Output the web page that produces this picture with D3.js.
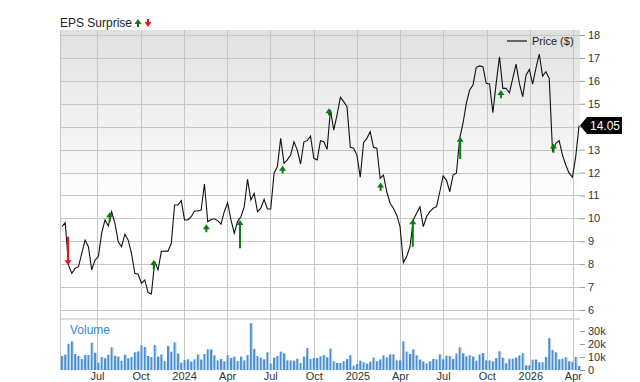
<!DOCTYPE html>
<html>
<head>
<meta charset="utf-8">
<script src="https://cdn.jsdelivr.net/npm/d3@7"></script>
<style>
  body { margin: 0; background: #fff; }
  svg { display: block; font-family: "Liberation Sans", Arial, sans-serif; }
</style>
</head>
<body>
<div id="chart"></div>
<script>
// weekly closing prices ($), first week of the series starts on firstWeek
var firstWeek = new Date(2023, 3, 18);
var prices = [
  9.64, 9.81, 7.96, 7.6, 7.82, 7.89, 8.47, 9.05, 8.76, 7.75,
  8.18, 8.33, 9.35, 9.93, 9.67, 10.29, 9.78, 8.98, 8.76, 9.31,
  9.05, 8.47, 7.6, 7.56, 7.17, 7.31, 6.76, 6.7, 8.11, 7.75,
  8.55, 8.57, 8.57, 8.91, 10.58, 10.58, 10.77, 9.93, 9.93, 10.07,
  10.32, 10.32, 10.36, 11.5, 9.85, 9.95, 9.98, 9.9, 9.75, 10.3,
  10.68, 9.93, 9.35, 9.87, 10.07, 10.5, 11.7, 10.8, 11.09, 10.29,
  10.44, 10.83, 10.41, 10.41, 11.97, 12.26, 13.49, 12.4, 12.55, 12.76,
  13.34, 12.98, 12.37, 13.34, 13.39, 13.59, 12.62, 12.55, 13.39, 13.34,
  13.01, 14.73, 13.85, 14.51, 15.28, 15.09, 14.87, 13.1, 13.06, 12.76,
  11.79, 13.3, 13.49, 13.78, 13.1, 13.06, 11.75, 11.89, 11.16, 10.66,
  10.44, 10.15, 9.64, 8.07, 8.33, 8.76, 9.93, 10.22, 10.51, 9.64,
  10.07, 10.29, 10.44, 10.51, 11.16, 11.85, 11.67, 11.16, 11.89, 11.97,
  13.49, 14.15, 15.02, 15.6, 15.82, 16.59, 16.65, 16.62, 15.89, 15.86,
  14.61, 15.89, 17.05, 15.67, 15.67, 15.48, 16.11, 16.73, 15.89, 15.31,
  16.25, 16.5, 15.86, 16.55, 17.17, 16.21, 16.4, 16.11, 12.91, 13.27,
  13.39, 12.76, 12.33, 11.97, 11.79, 12.69, 14.05
];
// weekly volume, thousands of shares
var volumes = [
  10.8, 11.8, 20, 22, 12.3, 10.8, 8.5, 11.5, 11.5, 21,
  13.3, 5.6, 10, 9, 11.8, 17.4, 11, 10.3, 7, 11.8,
  9, 10, 13.6, 14.4, 19, 17.7, 10.8, 10, 19.2, 10.3,
  12, 6.7, 18.5, 14.1, 21.3, 12.6, 5.6, 7.7, 8.2,
  6.4, 8.2, 12, 8, 12.3, 15.9, 15.9, 11.3, 7.4, 8.5,
  6.7, 11.3, 9.2, 10.3, 7, 10.3, 7.4, 11.5, 36, 16.2,
  10.8, 9.5, 8.2, 13.6, 4.9, 9.5, 10.8, 14.1, 12.8, 7.4,
  7.4, 7.2, 8.7, 5.4, 10.3, 16.9, 8.5, 9.2, 9.2,
  10.5, 11.5, 9.7, 16.4, 6.7, 5.4, 5.4, 6.7, 8.5, 11.3,
  3.3, 4.6, 7.2, 5.9, 4.9, 6.4, 9.5, 6.7, 8.2, 11.3,
  9.7, 12, 12, 7.4, 7.4, 22, 14.1, 12.3, 15.9, 11.3,
  8, 6.7, 5.1, 6.7, 8.5, 8.2, 12, 8.2, 11,
  10.8, 8.5, 12.6, 17.4, 12.8, 10.5, 11.3, 10.3, 7.2, 12,
  13, 7.4, 7.4, 6.7, 9.2, 14.4, 9.5, 5.1, 8.7, 8.7,
  9.5, 11.3, 13, 3.6, 3.6, 8, 8, 5.9, 5.9, 10,
  24.4, 15.4, 13.6, 8.2, 8.7, 9.7, 6.7, 6.2, 10, 3.1
];
// earnings reports: arrow from price "from" to price "to"
var surpriseDates = ["2023-05-01", "2023-07-28", "2023-10-29", "2024-02-17", "2024-04-28", "2024-07-27",
                     "2024-11-02", "2025-02-19", "2025-04-28", "2025-08-06", "2025-10-31", "2026-02-19"];
var surpriseFrom = [9.2, 9.85, 7.78, 9.39, 8.69, 11.97, 14.5, 11.2, 8.76, 12.59, 15.24, 12.86];
var surpriseTo   = [7.95, 10.27, 8.18, 9.74, 9.93, 12.3, 14.8, 11.56, 9.96, 13.56, 15.6, 13.27];

var xTickDates = ["2023-07-01", "2023-10-01", "2024-01-01", "2024-04-01", "2024-07-01", "2024-10-01",
                  "2025-01-01", "2025-04-01", "2025-07-01", "2025-10-01", "2026-01-01", "2026-04-01"];
var priceTicks = [6, 7, 8, 9, 10, 11, 12, 13, 14, 15, 16, 17, 18];
var volumeTicks = [0, 10, 20, 30];
var lastPrice = "14.05";

var width = 640, height = 382;
var left = 60, right = 580;
var priceTop = 30, priceBottom = 318;
var volTop = 320, volBottom = 370;

var parse = d3.timeParse("%Y-%m-%d");
var weeks = prices.map(function(d, i) { return d3.timeDay.offset(firstWeek, 7 * i); });

var x = d3.scaleTime()
    .domain([new Date(2023, 3, 14), new Date(2026, 3, 16)])
    .range([left, right]);
var y = d3.scaleLinear().domain([6, 18]).range([310, 35]);
var yVol = d3.scaleLinear().domain([0, 30]).range([volBottom, volBottom - 39]);

var svg = d3.select("#chart").append("svg")
    .attr("width", width)
    .attr("height", height);

var defs = svg.append("defs");
var grad = defs.append("linearGradient")
    .attr("id", "bg").attr("x1", 0).attr("y1", 0).attr("x2", 0).attr("y2", 1);
grad.append("stop").attr("offset", "0%").attr("stop-color", "#e0e0e0");
grad.append("stop").attr("offset", "60%").attr("stop-color", "#ffffff");

svg.append("rect")
    .attr("x", left).attr("y", priceTop)
    .attr("width", right - left).attr("height", priceBottom - priceTop)
    .attr("fill", "url(#bg)");

// separator between the panels
svg.append("rect")
    .attr("x", left).attr("y", priceBottom)
    .attr("width", right - left).attr("height", 2)
    .attr("fill", "#dcdcdc");

// grid
svg.append("g").selectAll("line")
    .data(priceTicks)
    .enter().append("line")
    .attr("x1", left).attr("x2", right)
    .attr("y1", function(d) { return Math.round(y(d)) + 0.5; })
    .attr("y2", function(d) { return Math.round(y(d)) + 0.5; })
    .attr("stroke", "#c6c6c6");

svg.append("g").selectAll("line")
    .data(xTickDates.map(parse))
    .enter().append("line")
    .attr("x1", function(d) { return Math.round(x(d)) + 0.5; })
    .attr("x2", function(d) { return Math.round(x(d)) + 0.5; })
    .attr("y1", priceTop).attr("y2", volBottom)
    .attr("stroke", "#c6c6c6");

svg.append("line")
    .attr("x1", left + 0.5).attr("x2", left + 0.5)
    .attr("y1", priceTop).attr("y2", volBottom)
    .attr("stroke", "#c6c6c6");

// volume bars
var vol = svg.append("g");
vol.selectAll("rect.v")
    .data(volumes)
    .enter().append("rect")
    .attr("class", "v")
    .attr("x", function(d, i) { return x(weeks[i]) - 1; })
    .attr("y", function(d) { return yVol(d); })
    .attr("width", 2)
    .attr("height", function(d) { return volBottom - yVol(d); })
    .attr("fill", "#4a8fd0");
vol.selectAll("rect.h")
    .data(volumes)
    .enter().append("rect")
    .attr("class", "h")
    .attr("x", function(d, i) { return x(weeks[i]) + 1; })
    .attr("y", function(d) { return yVol(d); })
    .attr("width", 0.8)
    .attr("height", function(d) { return volBottom - yVol(d); })
    .attr("fill", "#a9cbea");

svg.append("text")
    .attr("x", 70).attr("y", 334)
    .attr("font-size", 12)
    .attr("fill", "#3a86c8")
    .text("Volume");

// price line
var line = d3.line()
    .x(function(d, i) { return x(weeks[i]); })
    .y(function(d) { return y(d); });

svg.append("path")
    .datum(prices)
    .attr("d", line)
    .attr("fill", "none")
    .attr("stroke", "#111")
    .attr("stroke-width", 1.1);

// surprise arrows
function arrowPath(cx, y0, y1) {
  var dir = y1 < y0 ? -1 : 1; // -1 points up
  var headLen = 5, headW = 3.5, stemW = 1;
  var yb = y1 - dir * headLen;
  return "M" + (cx - stemW) + "," + y0 +
         "L" + (cx - stemW) + "," + yb +
         "L" + (cx - headW) + "," + yb +
         "L" + cx + "," + y1 +
         "L" + (cx + headW) + "," + yb +
         "L" + (cx + stemW) + "," + yb +
         "L" + (cx + stemW) + "," + y0 + "Z";
}

svg.append("g").selectAll("path")
    .data(surpriseDates)
    .enter().append("path")
    .attr("d", function(d, i) {
      return arrowPath(x(parse(d)), y(surpriseFrom[i]), y(surpriseTo[i]));
    })
    .attr("fill", function(d, i) { return surpriseTo[i] > surpriseFrom[i] ? "#0a7d0a" : "#f01414"; });

// right axes (the 14 label sits under the last-price tag)
var yAxis = d3.axisRight(y).tickValues(priceTicks).tickSize(5).tickPadding(3)
    .tickFormat(function(d) { return d === 14 ? "" : d; });
var gy = svg.append("g").attr("transform", "translate(" + right + ",0)").call(yAxis);
var volAxis = d3.axisRight(yVol).tickValues(volumeTicks).tickSize(5).tickPadding(3)
    .tickFormat(function(d) { return d === 0 ? "0" : d + "k"; });
var gv = svg.append("g").attr("transform", "translate(" + right + ",0)").call(volAxis);

[gy, gv].forEach(function(g) {
  g.select(".domain").remove();
  g.selectAll(".tick line").attr("stroke", "#999");
  g.selectAll(".tick text").attr("font-size", 11).attr("fill", "#333")
    .attr("font-family", "Liberation Sans, Arial, sans-serif");
});

// bottom axis
var xAxis = d3.axisBottom(x)
    .tickValues(xTickDates.map(parse))
    .tickSize(0).tickPadding(2)
    .tickFormat(function(d) {
      return d.getMonth() === 0 ? d3.timeFormat("%Y")(d) : d3.timeFormat("%b")(d);
    });
var gx = svg.append("g").attr("transform", "translate(0," + volBottom + ")").call(xAxis);
gx.select(".domain").remove();
gx.selectAll(".tick text").attr("font-size", 11).attr("fill", "#333")
  .attr("font-family", "Liberation Sans, Arial, sans-serif");

// last price tag
var ty = y(+lastPrice);
svg.append("path")
    .attr("d", "M" + right + "," + ty + "L" + (right + 7) + "," + (ty - 8.5) +
               "L" + 622 + "," + (ty - 8.5) + "L" + 622 + "," + (ty + 8.5) +
               "L" + (right + 7) + "," + (ty + 8.5) + "Z")
    .attr("fill", "#000");
svg.append("text")
    .attr("x", 590).attr("y", ty + 4.5)
    .attr("font-size", 12).attr("fill", "#fff")
    .text(lastPrice);

// legends
svg.append("line")
    .attr("x1", 507).attr("x2", 527).attr("y1", 41).attr("y2", 41)
    .attr("stroke", "#666").attr("stroke-width", 2);
svg.append("text")
    .attr("x", 532).attr("y", 45)
    .attr("font-size", 11).attr("fill", "#222")
    .text("Price ($)");

svg.append("text")
    .attr("x", 60).attr("y", 27)
    .attr("font-size", 12).attr("fill", "#222")
    .text("EPS Surprise");
svg.append("path").attr("d", arrowPath(138, 27, 19)).attr("fill", "#0a7d0a");
svg.append("path").attr("d", arrowPath(148, 19, 27)).attr("fill", "#f01414");
</script>
</body>
</html>
